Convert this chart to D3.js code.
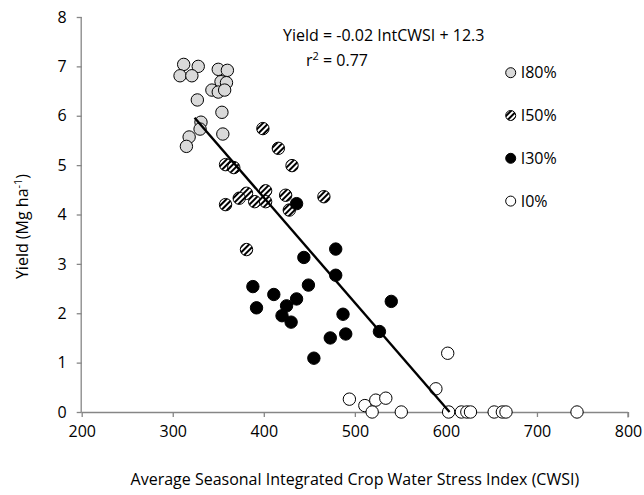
<!DOCTYPE html>
<html>
<head>
<meta charset="utf-8">
<script src="https://cdn.jsdelivr.net/npm/d3@7"></script>
<style>
  body { margin: 0; background: #fff; }
  text { font-family: "Open Sans", sans-serif; fill: #000; }
</style>
</head>
<body>
<svg id="chart"></svg>
<script>
// Values (CWSI on x, yield in Mg/ha on y)
var i80Cwsi  = [312, 328, 308, 321, 350, 360, 353, 359, 343, 350, 357, 327, 354, 331, 330, 355, 318, 315]
var i80Yield = [7.04, 7.00, 6.81, 6.81, 6.94, 6.92, 6.69, 6.67, 6.52, 6.48, 6.52, 6.32, 6.07, 5.87, 5.73, 5.63, 5.57, 5.38]

var i50Cwsi  = [399, 416, 431, 358, 367, 402, 381, 373, 390, 402, 424, 428, 466, 358, 381]
var i50Yield = [5.74, 5.34, 4.99, 5.01, 4.95, 4.48, 4.43, 4.33, 4.26, 4.26, 4.39, 4.09, 4.36, 4.20, 3.29]

var i30Cwsi  = [436, 479, 444, 479, 388, 449, 411, 436, 540, 392, 425, 420, 487, 430, 527, 490, 473, 455]
var i30Yield = [4.22, 3.30, 3.13, 2.77, 2.54, 2.57, 2.38, 2.29, 2.24, 2.11, 2.15, 1.95, 1.98, 1.82, 1.63, 1.58, 1.50, 1.09]

var i0Cwsi  = [494, 511, 523, 534, 589, 602, 519, 551, 603, 617, 623, 627, 653, 662, 666, 744]
var i0Yield = [0.26, 0.13, 0.24, 0.28, 0.47, 1.19, 0, 0, 0, 0, 0, 0, 0, 0, 0, 0]

var seriesNames = ["I80%", "I50%", "I30%", "I0%"]
var xTicks = [200, 300, 400, 500, 600, 700, 800]
var yTicks = [0, 1, 2, 3, 4, 5, 6, 7, 8]

// fitted line as drawn (end points)
var trendCwsi  = [324, 604]
var trendYield = [5.96, 0]

var width = 644
var height = 495
var plot = { left: 81.7, right: 628, top: 17, bottom: 412 }

var svg = d3.select("#chart")
  .attr("width", width)
  .attr("height", height)

var xScale = d3.scaleLinear().domain([200, 800]).range([plot.left, plot.right])
var yScale = d3.scaleLinear().domain([0, 8]).range([plot.bottom, plot.top])

// hatch pattern for the I50% markers
var defs = svg.append("defs")
defs.append("pattern")
  .attr("id", "hatch")
  .attr("patternUnits", "userSpaceOnUse")
  .attr("width", 4)
  .attr("height", 4)
  .attr("patternTransform", "rotate(45)")
  .call(function(p) {
    p.append("rect").attr("width", 4).attr("height", 4).attr("fill", "#fff")
    p.append("rect").attr("width", 2).attr("height", 4).attr("fill", "#000")
  })

var fills = ["#d9d9d9", "url(#hatch)", "#000", "#fff"]
var series = [
  { x: i80Cwsi, y: i80Yield },
  { x: i50Cwsi, y: i50Yield },
  { x: i30Cwsi, y: i30Yield },
  { x: i0Cwsi,  y: i0Yield }
]

// axes
var xAxis = svg.append("g")
  .attr("transform", "translate(0," + plot.bottom + ")")
  .call(d3.axisBottom(xScale).tickValues(xTicks).tickSize(5).tickPadding(9))
var yAxis = svg.append("g")
  .attr("transform", "translate(" + plot.left + ",0)")
  .call(d3.axisLeft(yScale).tickValues(yTicks).tickSize(5).tickPadding(10))

svg.selectAll(".domain, .tick line")
  .attr("stroke", "#868686")
  .attr("stroke-width", 1.3)
svg.selectAll(".tick text")
  .style("font-size", "16px")
  .style("font-family", "'Open Sans', sans-serif")
  .attr("fill", "#000")
// no end caps on the domain lines
xAxis.select(".domain").attr("d", "M" + plot.left + ",0.5H" + plot.right + "M" + plot.right + ",0.5V5.5")
yAxis.select(".domain").attr("d", "M-0.5," + plot.bottom + "V" + plot.top)

// points
series.forEach(function(s, k) {
  svg.append("g")
    .selectAll("circle")
    .data(d3.range(s.x.length))
    .enter()
    .append("circle")
    .attr("cx", function(i) { return xScale(s.x[i]) })
    .attr("cy", function(i) { return yScale(s.y[i]) })
    .attr("r", 6.2)
    .attr("fill", fills[k])
    .attr("stroke", "#000")
    .attr("stroke-width", 1)
})

// trend line
svg.append("line")
  .attr("x1", xScale(trendCwsi[0]))
  .attr("y1", yScale(trendYield[0]))
  .attr("x2", xScale(trendCwsi[1]))
  .attr("y2", yScale(trendYield[1]))
  .attr("stroke", "#000")
  .attr("stroke-width", 2.4)

// equation
svg.append("text")
  .attr("x", 283)
  .attr("y", 41)
  .style("font-size", "16px")
  .text("Yield = -0.02 IntCWSI + 12.3")
var r2 = svg.append("text")
  .attr("x", 306)
  .attr("y", 66)
  .style("font-size", "16px")
r2.append("tspan").text("r")
r2.append("tspan").attr("dy", -6).style("font-size", "11px").text("2")
r2.append("tspan").attr("dy", 6).text(" = 0.77")

// legend
var legend = svg.append("g")
  .selectAll("g")
  .data(seriesNames)
  .enter()
  .append("g")
  .attr("transform", function(d, i) { return "translate(510.7," + (72.7 + i * 42.8) + ")" })
legend.append("circle")
  .attr("r", 5)
  .attr("fill", function(d, i) { return fills[i] })
  .attr("stroke", "#000")
  .attr("stroke-width", 1)
legend.append("text")
  .attr("x", 10)
  .attr("dy", "0.36em")
  .style("font-size", "16px")
  .text(function(d) { return d })

// axis titles
svg.append("text")
  .attr("x", (plot.left + plot.right) / 2)
  .attr("y", 485)
  .attr("text-anchor", "middle")
  .style("font-size", "16px")
  .text("Average Seasonal Integrated Crop Water Stress Index (CWSI)")

var yTitle = svg.append("text")
  .attr("transform", "translate(28," + ((plot.top + plot.bottom) / 2 + 12) + ") rotate(-90)")
  .attr("text-anchor", "middle")
  .style("font-size", "16px")
yTitle.append("tspan").text("Yield (Mg ha")
yTitle.append("tspan").attr("dy", -6).style("font-size", "11px").text("-1")
yTitle.append("tspan").attr("dy", 6).text(")")
</script>
</body>
</html>
